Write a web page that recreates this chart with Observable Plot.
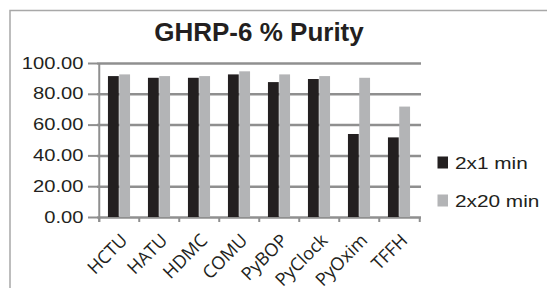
<!DOCTYPE html>
<html>
<head>
<meta charset="utf-8">
<script src="https://cdn.jsdelivr.net/npm/d3@7"></script>
<script src="https://cdn.jsdelivr.net/npm/@observablehq/plot@0.6"></script>
<style>
  html, body { margin: 0; padding: 0; background: #fff; }
  #chart svg { display: block; }
</style>
</head>
<body>
<div id="chart"></div>
<script>
const title = "GHRP-6 % Purity";
const categories = ["HCTU", "HATU", "HDMC", "COMU", "PyBOP", "PyClock", "PyOxim", "TFFH"];
const series = ["2x1 min", "2x20 min"];
const values1 = [91.5, 90.4, 90.4, 92.6, 87.6, 89.6, 53.9, 51.7];
const values2 = [92.6, 91.5, 91.5, 94.6, 92.6, 91.5, 90.4, 71.7];
const yTicks = [0, 20, 40, 60, 80, 100];
const colors = ["#231f20", "#b3b4b6"];

const W = 547, H = 288;
const mL = 97, mR = 126, mT = 63, mB = 71;
const bw = (W - mL - mR) / categories.length;
const barW = 11.3;
const outer = (bw - 2 * barW) / 2;
const gridColor = "#8f8f8f";

const data1 = categories.map((c, i) => ({cat: c, series: series[0], value: values1[i]}));
const data2 = categories.map((c, i) => ({cat: c, series: series[1], value: values2[i]}));

const chart = Plot.plot({
  width: W,
  height: H,
  marginLeft: mL,
  marginRight: mR,
  marginTop: mT,
  marginBottom: mB,
  style: {fontFamily: "'Liberation Sans', Arial, sans-serif", color: "#231f20", background: "#fff"},
  x: {domain: categories, padding: 0, label: null},
  y: {domain: [0, 100], label: null},
  color: {domain: series, range: colors},
  marks: [
    Plot.gridY({ticks: yTicks, stroke: gridColor, strokeOpacity: 1, strokeWidth: 2.5}),
    Plot.barY(data1, {x: "cat", y: "value", fill: "series", insetLeft: outer, insetRight: outer + barW}),
    Plot.barY(data2, {x: "cat", y: "value", fill: "series", insetLeft: outer + barW, insetRight: outer}),
    // category boundary ticks
    Plot.ruleX(categories, {x: d => d, y1: () => 0, y2: () => 0, insetBottom: -5, dx: -bw / 2, stroke: gridColor, strokeWidth: 2}),
    Plot.ruleX([categories[categories.length - 1]], {x: d => d, y1: () => 0, y2: () => 0, insetBottom: -5, dx: bw / 2, stroke: gridColor, strokeWidth: 2}),
    // y axis line
    Plot.ruleX([categories[0]], {x: d => d, y1: () => 0, y2: () => 100, insetTop: 5, dx: -bw / 2, stroke: gridColor, strokeWidth: 2}),
    Plot.axisY({ticks: yTicks, tickFormat: d3.format(".2f"), tickSize: 9, tickPadding: 5, stroke: gridColor, strokeWidth: 2, fill: "#231f20", fontSize: 16, label: null}),
    Plot.axisX({tickSize: 0, tickPadding: 20, dx: 5, tickRotate: -45, fill: "#231f20", fontSize: 18, fontFamily: "'Open Sans', sans-serif", label: null})
  ]
});

document.getElementById("chart").appendChild(chart);
const svg = d3.select(chart);

// widen texts horizontally about their anchor (the reference type is set wide)
function stretch(sel, s) {
  sel.each(function() {
    const t = this.getAttribute("transform") || "";
    this.setAttribute("transform", `${t} scale(${s},1)`);
  });
}
stretch(svg.selectAll('g[aria-label="y-axis tick label"] text'), 1.26);

// outer border
svg.insert("rect", ":first-child")
  .attr("x", 10).attr("y", 10.5).attr("width", 600).attr("height", 400)
  .attr("fill", "none").attr("stroke", "#a8a8a8").attr("stroke-width", 1.5);

// title
svg.append("text")
  .attr("x", mL + (W - mL - mR) / 2).attr("y", 41)
  .attr("text-anchor", "middle")
  .attr("font-size", 26).attr("font-weight", "bold")
  .attr("fill", "#231f20")
  .text(title);

// legend
const lg = svg.append("g");
series.forEach((s, i) => {
  const y0 = 156.5 + i * 38;
  lg.append("rect").attr("x", 437.5).attr("y", y0).attr("width", 10.5).attr("height", 12).attr("fill", colors[i]);
  lg.append("text")
    .attr("transform", `translate(455,${y0 + 12}) scale(1.3,1)`)
    .attr("text-anchor", "start")
    .attr("font-size", 16).attr("fill", "#231f20").text(s);
});
</script>
</body>
</html>
